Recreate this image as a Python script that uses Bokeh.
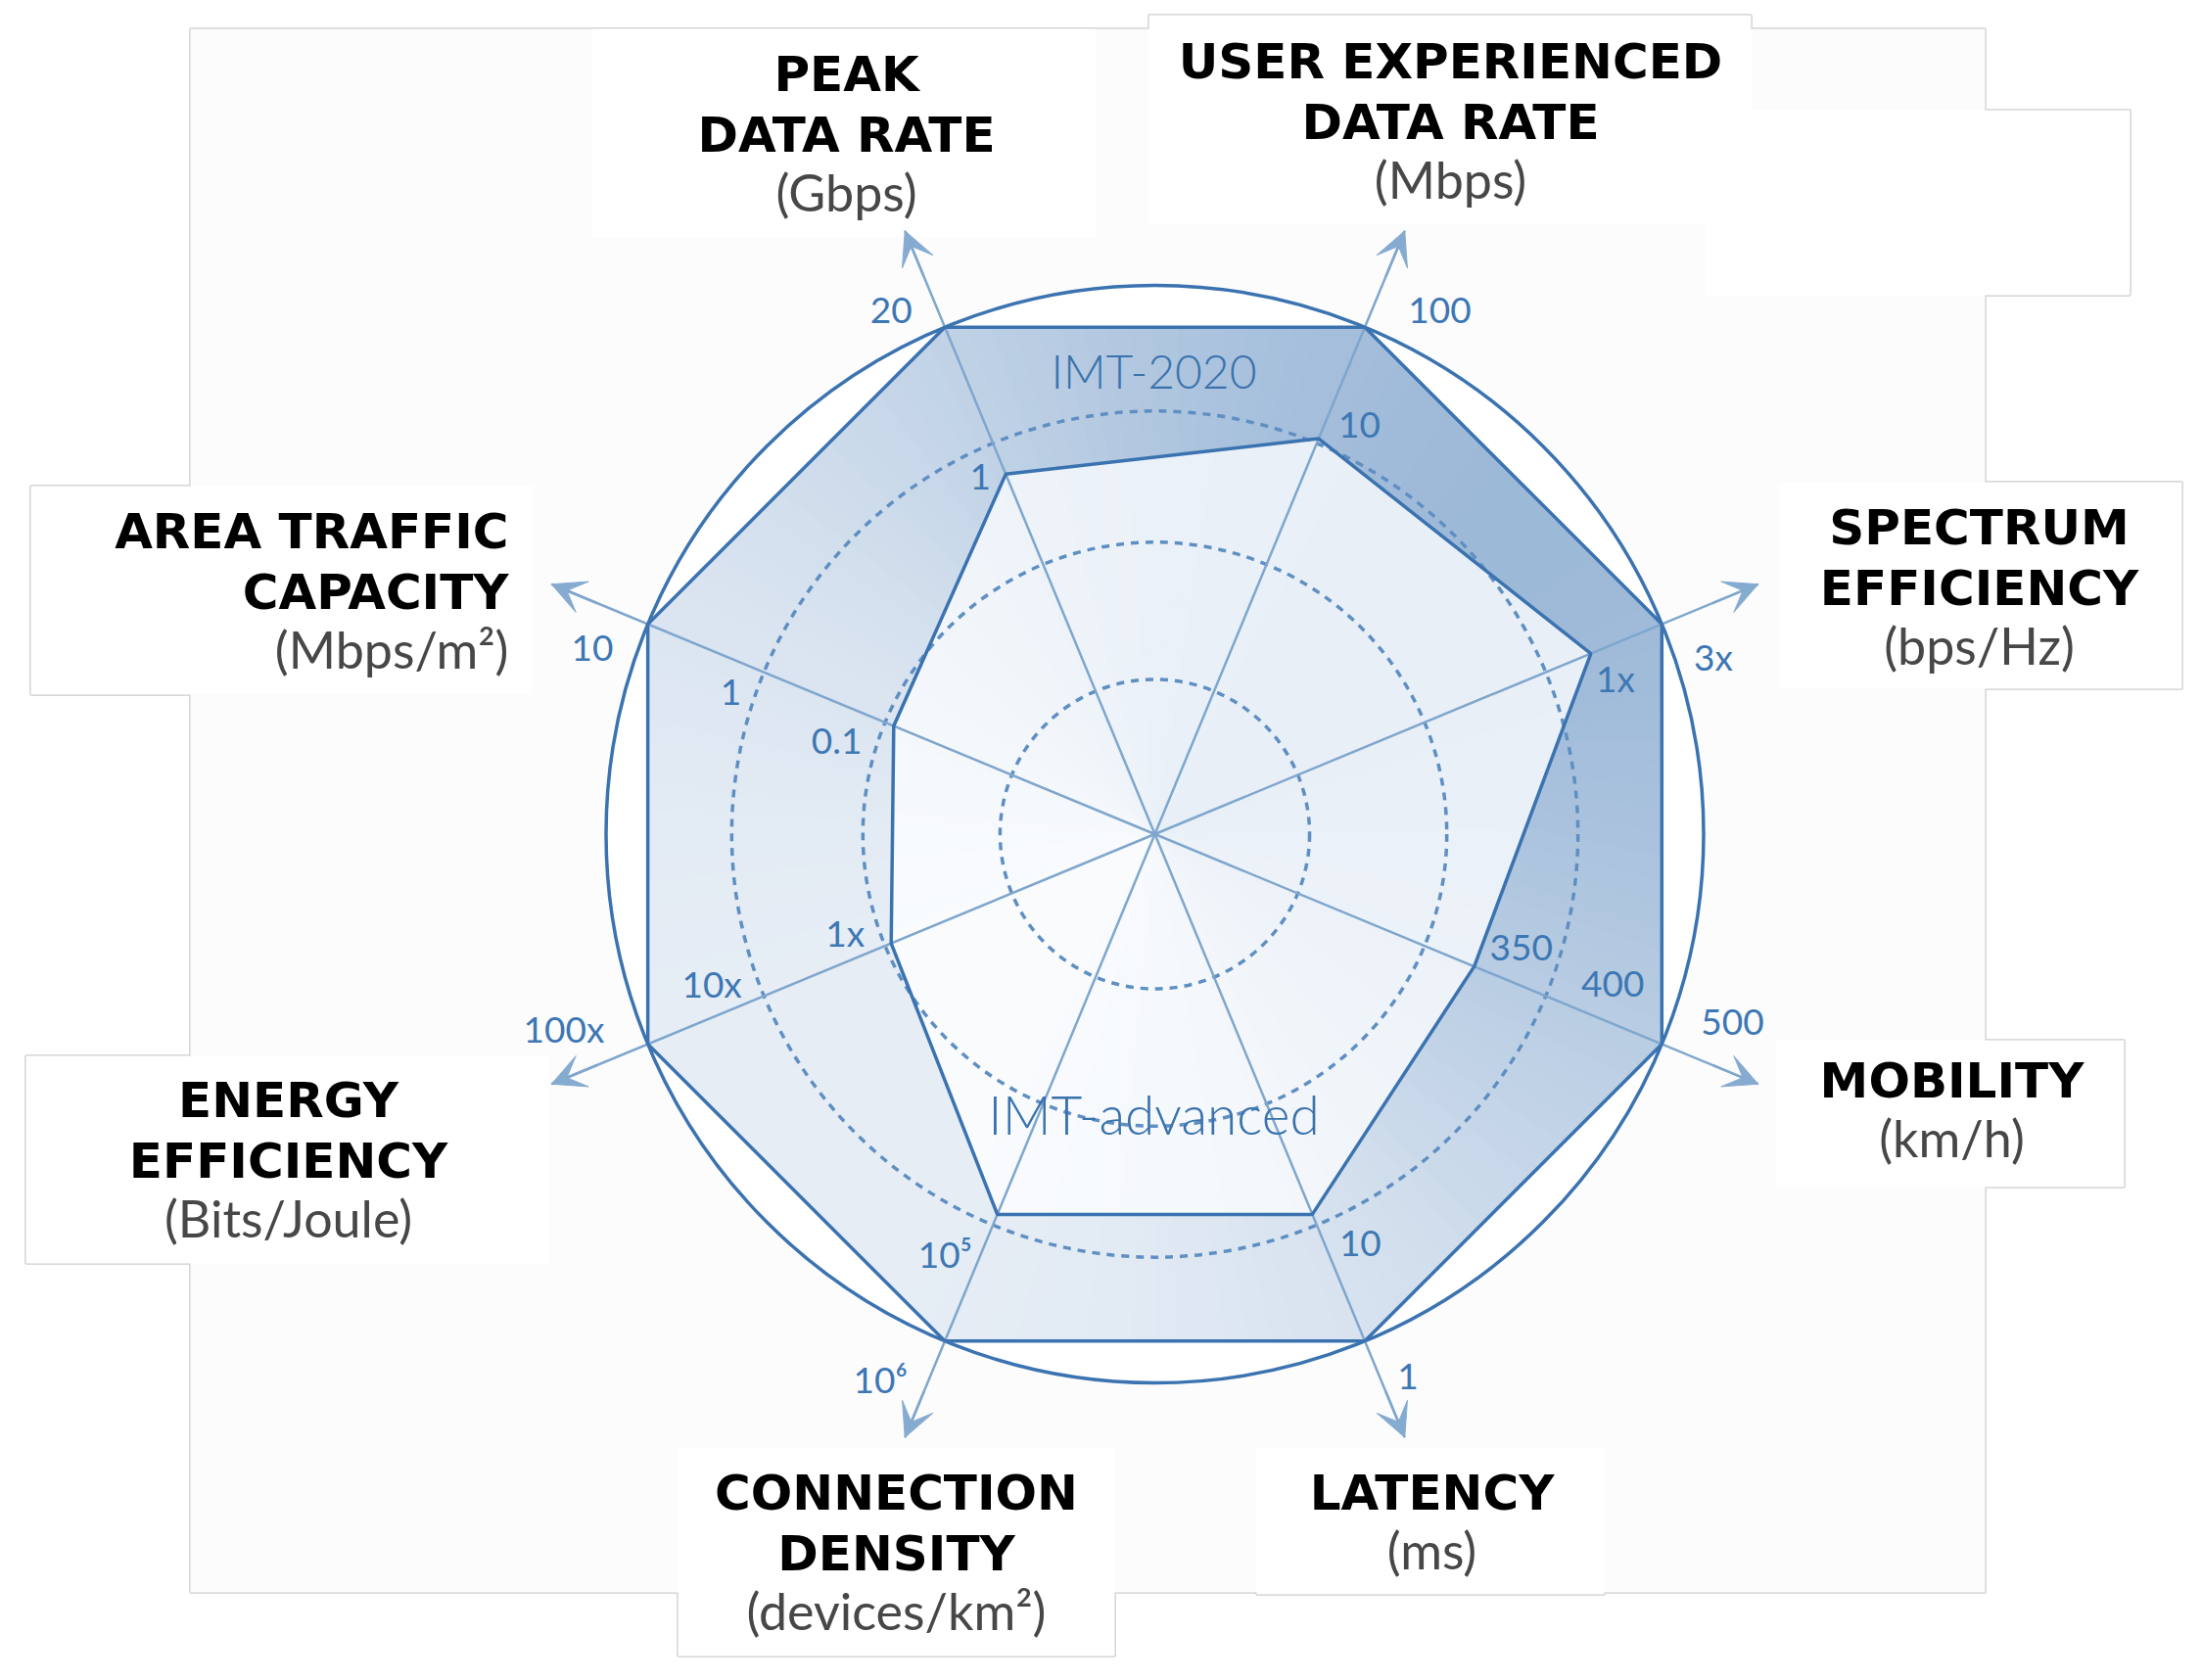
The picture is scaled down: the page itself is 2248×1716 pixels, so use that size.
import numpy as np
from bokeh.plotting import figure
from bokeh.models import Range1d, ColumnDataSource, Arrow, VeeHead
from bokeh.core.properties import value
from bokeh.embed import file_html
from bokeh.resources import INLINE

# ---------------- data ----------------
categories = ["Peak data rate", "User experienced data rate", "Spectrum efficiency",
              "Mobility", "Latency", "Connection density", "Energy efficiency",
              "Area traffic capacity"]
title_lines = [["PEAK", "DATA RATE"], ["USER EXPERIENCED", "DATA RATE"],
               ["SPECTRUM", "EFFICIENCY"], ["MOBILITY"], ["LATENCY"],
               ["CONNECTION", "DENSITY"], ["ENERGY", "EFFICIENCY"],
               ["AREA TRAFFIC", "CAPACITY"]]
units = ["(Gbps)", "(Mbps)", "(bps/Hz)", "(km/h)", "(ms)", "(devices/km²)",
         "(Bits/Joule)", "(Mbps/m²)"]
# normalised radius of each requirement on its axis (outer circle = 1)
imt2020_score = [1.0, 1.0, 1.0, 1.0, 1.0, 1.0, 1.0, 1.0]
imt_advanced_score = [0.71, 0.78, 0.86, 0.63, 0.75, 0.75, 0.52, 0.515]
grid_levels = [0.282, 0.532, 0.771]
# tick labels along each axis (outer first) and where they sit on the axis
tick_labels = [["20", "1"], ["100", "10"], ["3x", "1x"], ["500", "400", "350"],
               ["1", "10"], ["10⁶", "10⁵"], ["100x", "10x", "1x"],
               ["10", "1", "0.1"]]
tick_r = [[1.066, 0.723], [1.081, 0.832], [1.064, 0.884], [1.104, 0.875, 0.696],
          [1.089, 0.832], [1.109, 0.852], [1.130, 0.850, 0.590],
          [1.077, 0.8125, 0.600]]
series_names = ["IMT-2020", "IMT-advanced"]

# ---------------- layout / style ----------------
CX, CY, R = 1179.0, 851.5, 560.5
tick_perp = [[44, 25], [64, 33], [51, 33], [48, 38, 36], [27, 34], [46, 34],
             [48, 32, 28], [44, 32, 37]]
tick_side = [1, -1, -1, 1, 1, -1, -1, 1]
title_pos = [(864, 75, "center"), (1481, 62, "center"), (2021, 538, "center"),
             (1993, 1103, "center"), (1462, 1524, "center"), (915, 1524, "center"),
             (294, 1123, "center"), (519, 542, "right")]
LINE_GAP, UNIT_GAP = 62, 58
big_rect = (194, 29, 2027, 1626)
boxes = [(604, 29, 1118, 242), (1173, 15, 1788, 228), (1742, 112, 2175, 301),
         (1817, 492, 2228, 703), (1813, 1062, 2169, 1212), (1283, 1478, 1638, 1628),
         (692, 1478, 1138, 1691), (26, 1078, 560, 1290), (31, 496, 543, 709)]

EDGE = "#3b73b0"
AXIS = "#7fa6cd"
TICK = "#3d77b4"
W, H = 2232, 1700


def dx(X):
    return X - CX


def dy(Y):
    return CY - Y


def mix(c1, c2, t):
    t = min(max(t, 0.0), 1.0)
    return "#%02x%02x%02x" % tuple(int(round(a + (b - a) * t)) for a, b in zip(c1, c2))


p = figure(width=W, height=H, x_range=Range1d(dx(0), dx(W)),
           y_range=Range1d(dy(H), dy(0)), output_backend="svg",
           toolbar_location=None, min_border=0, outline_line_color=None,
           x_axis_type=None, y_axis_type=None,
           background_fill_color="white", border_fill_color="white")
p.grid.visible = False

# background panels: border pass then fill pass (so only the union outline remains)
rects = [big_rect] + boxes
fills = ["#fcfcfc"] + ["#ffffff"] * len(boxes)
L = [dx(r[0]) for r in rects]
Rt = [dx(r[2]) for r in rects]
T = [dy(r[1]) for r in rects]
B = [dy(r[3]) for r in rects]
p.quad(left=L, right=Rt, top=T, bottom=B, fill_color=None, line_color="#cdcdcd",
       line_width=2.5)
p.quad(left=L, right=Rt, top=T, bottom=B, fill_color=fills, line_color=None)

n = len(categories)
ang = np.deg2rad(-22.5 + 45.0 * np.arange(n))   # clockwise from up
ux, uy = np.sin(ang), np.cos(ang)

outer_r = R * np.array(imt2020_score)
inner_r = R * np.array(imt_advanced_score)
ox, oy = outer_r * ux, outer_r * uy
ix, iy = inner_r * ux, inner_r * uy

# outer circle
p.circle(x=[0], y=[0], radius=R, fill_color="white", line_color=EDGE, line_width=3.5)

# gradient band and inner area built from slices
band_xs, band_ys, band_c = [], [], []
in_xs, in_ys, in_c = [], [], []
NS = 18
dark, light = (0x9d, 0xb9, 0xd8), (0xe6, 0xed, 0xf5)
in_dark, in_light = (0xe8, 0xef, 0xf7), (0xf9, 0xfb, 0xfd)
for i in range(n):
    j = (i + 1) % n
    for k in range(NS):
        t0, t1 = k / NS, (k + 1) / NS
        o0 = (ox[i] + (ox[j] - ox[i]) * t0, oy[i] + (oy[j] - oy[i]) * t0)
        o1 = (ox[i] + (ox[j] - ox[i]) * t1, oy[i] + (oy[j] - oy[i]) * t1)
        i0 = (ix[i] + (ix[j] - ix[i]) * t0, iy[i] + (iy[j] - iy[i]) * t0)
        i1 = (ix[i] + (ix[j] - ix[i]) * t1, iy[i] + (iy[j] - iy[i]) * t1)
        mx, my = (o0[0] + o1[0]) / 2, (o0[1] + o1[1]) / 2
        phi = np.arctan2(mx, my)
        s = (1 + np.cos(phi - np.deg2rad(50))) / 2
        col = mix(light, dark, s ** 1.5)
        band_xs.append([o0[0], o1[0], i1[0], i0[0]])
        band_ys.append([o0[1], o1[1], i1[1], i0[1]])
        band_c.append(col)
        in_xs.append([0, i0[0], i1[0]])
        in_ys.append([0, i0[1], i1[1]])
        in_c.append(mix(in_light, in_dark, s))
p.patches(xs=band_xs, ys=band_ys, fill_color=band_c, line_color=band_c, line_width=1)
p.patches(xs=in_xs, ys=in_ys, fill_color=in_c, line_color=in_c, line_width=1)

# dashed grid circles
for g in grid_levels:
    p.circle(x=[0], y=[0], radius=g * R, fill_color=None, line_color="#5f8fc2",
             line_width=3.5, line_dash="8 7")

# axes
tip = 1.19 * R
p.segment(x0=[0] * n, y0=[0] * n, x1=list(tip * ux), y1=list(tip * uy),
          line_color=AXIS, line_width=2.5)
head_src = ColumnDataSource(dict(x0=list(1.10 * R * ux), y0=list(1.10 * R * uy),
                                 x1=list(tip * ux), y1=list(tip * uy)))
p.add_layout(Arrow(end=VeeHead(size=34, fill_color="#86abd1", line_color="#86abd1"),
                   x_start="x0", y_start="y0", x_end="x1", y_end="y1",
                   line_color=AXIS, line_width=2.5, source=head_src))

# polygon outlines
p.patch(x=list(ox), y=list(oy), fill_color=None, line_color=EDGE, line_width=3.5)
p.patch(x=list(ix), y=list(iy), fill_color=None, line_color=EDGE, line_width=3.5)

# tick labels
tx, ty, tt = [], [], []
for i in range(n):
    nx, ny = -np.cos(ang[i]) * tick_side[i], np.sin(ang[i]) * tick_side[i]
    for lab, rr, pp in zip(tick_labels[i], tick_r[i], tick_perp[i]):
        tx.append(rr * R * ux[i] + pp * nx)
        ty.append(rr * R * uy[i] + pp * ny)
        tt.append(lab)
p.text(x=tx, y=ty, text=tt, text_font=value("Lato"), text_font_size="37px",
       text_color=TICK, text_align="center", text_baseline="middle")

# series names
p.text(x=[dx(1178)], y=[dy(378)], text=[series_names[0]],
       text_font=value("Lato Light, Lato"), text_font_size="48px",
       text_color="#3a72ad", text_align="center", text_baseline="middle")
p.text(x=[dx(1178)], y=[dy(1137)], text=[series_names[1]],
       text_font=value("Lato Light, Lato"), text_font_size="55px",
       text_color="#3a72ad", text_align="center", text_baseline="middle")

# axis titles and units
for i in range(n):
    X, Y, al = title_pos[i]
    lines = title_lines[i]
    p.text(x=[dx(X)] * len(lines), y=[dy(Y + LINE_GAP * k) for k in range(len(lines))],
           text=lines, text_font=value("DejaVu Sans"), text_font_style="bold",
           text_font_size="50px", text_color="black", text_align=al,
           text_baseline="middle")
    p.text(x=[dx(X)], y=[dy(Y + LINE_GAP * (len(lines) - 1) + UNIT_GAP)],
           text=[units[i]], text_font=value("Lato"),
           text_font_size="52px", text_color="#474747", text_align=al,
           text_baseline="middle")

open("out.html", "w").write(file_html(p, INLINE))
